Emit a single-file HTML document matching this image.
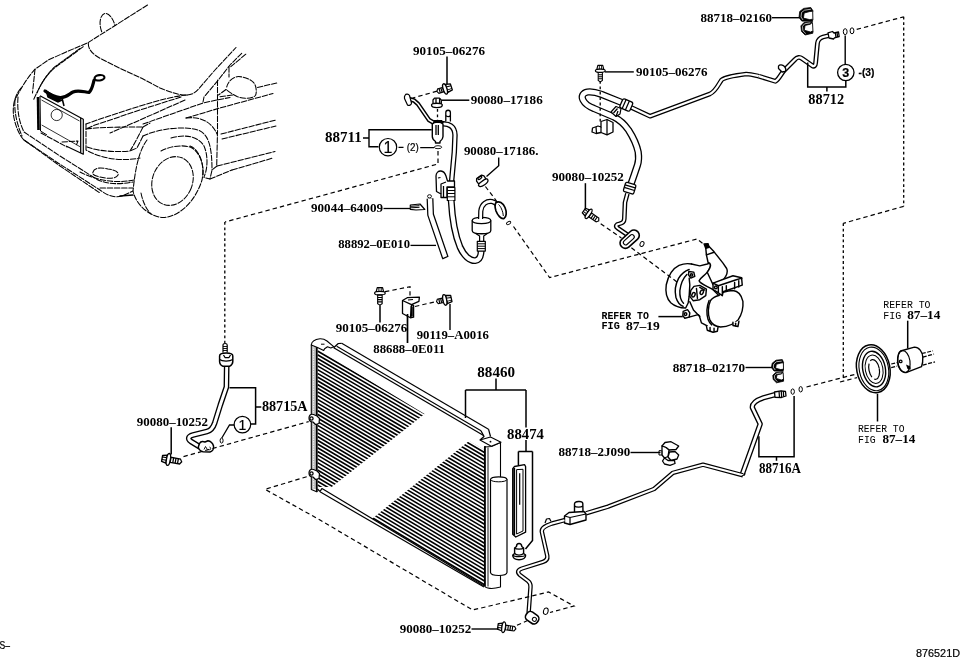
<!DOCTYPE html>
<html><head><meta charset="utf-8"><title>876521D</title>
<style>
html,body{margin:0;padding:0;background:#fff;}
body{width:960px;height:663px;overflow:hidden;font-family:"Liberation Sans",sans-serif;}
svg{display:block;will-change:transform}
.pn{font-family:"Liberation Serif",serif;font-weight:bold;font-size:12px;fill:#000}
.pb{font-family:"Liberation Serif",serif;font-weight:bold;font-size:14px;fill:#000}
.mono{font-family:"Liberation Mono",monospace;font-size:10.5px;fill:#000}
.sans{font-family:"Liberation Sans",sans-serif;fill:#000;stroke:#000;stroke-width:.2}
.l{stroke:#000;stroke-width:1.25;fill:none;stroke-linecap:butt;stroke-linejoin:round}
.t{stroke:#000;stroke-width:0.9;fill:none;stroke-linejoin:round}
.d{stroke:#000;stroke-width:1.2;fill:none;stroke-dasharray:4.4 3.1}
.c{stroke:#000;stroke-width:1.05;fill:none;stroke-dasharray:5.5 1.7;stroke-linejoin:round;stroke-linecap:round}
.w{stroke:#000;stroke-width:1.2;fill:#fff;stroke-linejoin:round}
</style></head>
<body>
<svg width="960" height="663" viewBox="0 0 960 663">
<rect width="960" height="663" fill="#fff"/>
<!--CAR-->
<g id="car">
<!-- roof / far pillar -->
<path class="c" d="M147.5,5 L87,43.3"/>
<path class="c" d="M101.7,31.7 C98,22 101,13 106,13.5 C110,14 113.5,20 115,25.5"/>
<!-- hood left/outer edge -->
<path class="c" d="M86.7,43.3 L66.7,51.7 L48.3,60 L35,69.2 C28,77 22,86 15,100"/>
<path class="c" d="M83.3,46.7 L58.3,65 C50,71 43,79 37,93"/>
<path class="c" d="M80,48.3 L55,66.7 C47,74 41,83 33.5,100"/>
<path class="c" d="M35,69.2 L32.5,93"/>
<!-- windshield base & A pillar -->
<path class="c" d="M88.3,43.3 C88,50 94,55 100,58.3 L120,68.3 L141.7,78.3 L160,88 C170,92 180,95.5 187,95 C193,94.5 196,92 199,88.5 L215,70 L236,47.5"/>
<path class="c" d="M241.7,53.3 L230,65 L218.3,80 L204,97 L203,102"/>
<path class="c" d="M245.8,54.2 L230.8,66.7"/>
<path class="c" d="M229,66.7 L229,77"/>
<!-- side mirror -->
<path class="c" d="M226.7,87 C228,82 232,77.5 237,76.7 C242,76 250,79 253,82 C256.5,85 257,92 255.5,95.5 C252,99 243,99 237,96.5 C232,94 228,91 226,89.5"/>
<path class="c" d="M226,89.5 L218.5,95"/>
<path class="c" d="M220,96.7 L233,95"/>
<path class="c" d="M257.5,87.5 L276.7,83"/>
<!-- hood right creases -->
<path class="c" d="M187,95 C175,96 160,100 140,106 L100,119 L86,124"/>
<path class="c" d="M181,97 L140,110 L95,125 L86,129"/>
<path class="c" d="M185,100 L140,120 L110,133"/>
<!-- fender top / beltline -->
<path class="c" d="M143,124 L203,103 L216.7,100 L230,97.5"/>
<path class="c" d="M186,118 L220,108 L273,93.5"/>
<!-- door front edge -->
<path class="c" d="M217.5,80 L217.5,131.7 L216.7,166"/>
<!-- door lines -->
<path class="c" d="M221,134 L276,120"/>
<path class="c" d="M222,139 L276,126"/>
<path class="c" d="M217,166 L275,151.5"/>
<path class="c" d="M232,170 L273,158"/>
<path class="c" d="M217,166 L212,170 L210,179 L204,177.5"/>
<path class="c" d="M210,179 L232,170"/>
<!-- fender arch -->
<path class="c" d="M186,118 C200,116 212,122 217,134"/>
<path class="c" d="M143,136 C160,128 185,126 198,130 C208,134 212,145 212,170"/>
<path class="c" d="M171,138 C185,134 198,136 204,146 C208,155 208,168 204,177"/>
<path class="c" d="M161,151 C170,146 185,144 192,148 C200,153 204,165 203,175"/>
<!-- wheel -->
<path class="c" d="M147,140 C138,152 135,172 133,191 C136,205 150,217 163,217.5 C180,217 196,200 202,180 C205,165 200,150 190,146"/>
<ellipse class="c" cx="172.5" cy="181" rx="20" ry="25" transform="rotate(22 172.5 181)"/>
<path class="c" d="M141,193 C143,203 147,210 151,214"/>
<!-- headlight -->
<path class="c" d="M86,129 C100,127 125,127 143,127 C140,133 135,143 130,151 C120,152 100,152 87,147"/>
<path class="c" d="M143,127 L150,123"/>
<path class="c" d="M143,136 L137,148 L130,151"/>
<!-- bumper -->
<path class="c" d="M21,88 C14,96 12,108 14,118 C16,128 20,136 24,140 L58,163 L100,190 C108,196 115,198 122,196 L133,191"/>
<path class="c" d="M18,97 C17,110 19,122 24,132 L60,156 L98,180 C110,185 122,184 133,182"/>
<path class="c" d="M15,100 C14,112 17,124 22,136"/>
<path class="c" d="M24,140 L60,166 L100,193"/>
<path class="c" d="M80,172 C95,180 115,184 134,180"/>
<path class="c" d="M100,188 L133,188"/>
<path class="c" d="M120,196 L133,195" style="stroke-width:1.6;stroke-dasharray:none"/>
<path class="c" d="M93,172 C94,168 100,167 108,169 C115,170 119,172 118,175 C116,179 108,179 100,177 C95,176 92,175 93,172Z"/>
<!-- grille area lines -->
<path class="c" d="M41,133 L67,147"/>
<path class="c" d="M62,142 L78,141 L76,146"/>
<path class="c" d="M86,124 L86,150 C100,158 120,162 140,158"/>
<!-- condenser plate (solid) -->
<path class="l" d="M40,95.8 L83.3,119.2 L83.3,154.2 L66,146" style="stroke-width:1.2"/>
<path class="l" d="M80.7,118 L80.7,153"/>
<path class="l" d="M38,97 L38.5,130" style="stroke-width:2.6"/>
<path class="l" d="M41.5,100 L79.5,121 M41.7,125 L80,146.7" style="stroke-width:0.8"/>
<path class="l" d="M40,96 L40.5,131 L47,135" style="stroke-width:1"/>
<circle class="l" cx="56.7" cy="115" r="5.6" style="stroke-width:0.8"/>
<!-- hose (thick) -->
<path d="M45,91 C49,94 54,97 60,97.5 C66,98 69,94 73,92 C78,89.5 84,92 89,92.5 C92,90 93,84 94,80.5" fill="none" stroke="#000" stroke-width="3.2" stroke-linecap="round" stroke-linejoin="round"/>
<ellipse cx="99.5" cy="77.8" rx="5" ry="2.7" transform="rotate(-8 99.5 77.8)" fill="#fff" stroke="#000" stroke-width="2.1"/>
<path d="M46,90 L48,97 L58,102 L62,100" fill="#000" stroke="#000" stroke-width="1.5"/>
<path d="M62,98 L64,106" stroke="#000" stroke-width="1.6" fill="none"/>
</g>
<!--CONDENSER-->
<g id="cond">
<defs>
<clipPath id="cl"><polygon points="317.5,349 424.6,414 331.7,487.1 317.5,487"/></clipPath>
<clipPath id="cr"><polygon points="469,441 484.5,450 484.5,586.5 371.8,518.9"/></clipPath>
</defs>
<path clip-path="url(#cl)" d="M317.5,351.00 L484.5,448.70 M317.5,354.72 L484.5,452.48 M317.5,358.44 L484.5,456.26 M317.5,362.16 L484.5,460.04 M317.5,365.88 L484.5,463.82 M317.5,369.60 L484.5,467.60 M317.5,373.32 L484.5,471.38 M317.5,377.04 L484.5,475.16 M317.5,380.76 L484.5,478.94 M317.5,384.48 L484.5,482.72 M317.5,388.20 L484.5,486.50 M317.5,391.92 L484.5,490.28 M317.5,395.64 L484.5,494.06 M317.5,399.36 L484.5,497.84 M317.5,403.08 L484.5,501.62 M317.5,406.80 L484.5,505.40 M317.5,410.52 L484.5,509.18 M317.5,414.24 L484.5,512.96 M317.5,417.96 L484.5,516.74 M317.5,421.68 L484.5,520.52 M317.5,425.40 L484.5,524.30 M317.5,429.12 L484.5,528.08 M317.5,432.84 L484.5,531.86 M317.5,436.56 L484.5,535.64 M317.5,440.28 L484.5,539.42 M317.5,444.00 L484.5,543.20 M317.5,447.72 L484.5,546.98 M317.5,451.44 L484.5,550.76 M317.5,455.16 L484.5,554.54 M317.5,458.88 L484.5,558.32 M317.5,462.60 L484.5,562.10 M317.5,466.32 L484.5,565.88 M317.5,470.04 L484.5,569.66 M317.5,473.76 L484.5,573.44 M317.5,477.48 L484.5,577.22 M317.5,481.20 L484.5,581.00 M317.5,484.92 L484.5,584.78 M317.5,488.64 L484.5,588.56" stroke="#000" stroke-width="1.6" fill="none"/>
<path clip-path="url(#cr)" d="M317.5,351.00 L484.5,448.70 M317.5,354.72 L484.5,452.48 M317.5,358.44 L484.5,456.26 M317.5,362.16 L484.5,460.04 M317.5,365.88 L484.5,463.82 M317.5,369.60 L484.5,467.60 M317.5,373.32 L484.5,471.38 M317.5,377.04 L484.5,475.16 M317.5,380.76 L484.5,478.94 M317.5,384.48 L484.5,482.72 M317.5,388.20 L484.5,486.50 M317.5,391.92 L484.5,490.28 M317.5,395.64 L484.5,494.06 M317.5,399.36 L484.5,497.84 M317.5,403.08 L484.5,501.62 M317.5,406.80 L484.5,505.40 M317.5,410.52 L484.5,509.18 M317.5,414.24 L484.5,512.96 M317.5,417.96 L484.5,516.74 M317.5,421.68 L484.5,520.52 M317.5,425.40 L484.5,524.30 M317.5,429.12 L484.5,528.08 M317.5,432.84 L484.5,531.86 M317.5,436.56 L484.5,535.64 M317.5,440.28 L484.5,539.42 M317.5,444.00 L484.5,543.20 M317.5,447.72 L484.5,546.98 M317.5,451.44 L484.5,550.76 M317.5,455.16 L484.5,554.54 M317.5,458.88 L484.5,558.32 M317.5,462.60 L484.5,562.10 M317.5,466.32 L484.5,565.88 M317.5,470.04 L484.5,569.66 M317.5,473.76 L484.5,573.44 M317.5,477.48 L484.5,577.22 M317.5,481.20 L484.5,581.00 M317.5,484.92 L484.5,584.78 M317.5,488.64 L484.5,588.56" stroke="#000" stroke-width="1.6" fill="none"/>
<path class="l" d="M341.7,343.3 L488.5,429.2" style="stroke-width:1.2"/>
<path class="l" d="M336.7,346.3 L481.0,430.7" style="stroke-width:1.1"/>
<path class="l" d="M333.7,347.8 L484.0,435.7" style="stroke-width:1.3"/>
<path class="l" d="M333.7,347.8 L335.8,345.8 L338.3,343.5 L341.7,343.3"/>
<path class="l" d="M488.5,429.2 L490.5,436.5 M481,430.7 L484,436.5 L480,440"/>
<path class="l" d="M320,491.8 L484,587" style="stroke-width:1.2"/>
<path class="l" d="M322,488.5 L484,585.9" style="stroke-width:1.2"/>
<path class="l" d="M317.5,489 L320,491.5 M322,488.3 L320,491.5"/>
<rect x="311.8" y="344" width="4.8" height="145" fill="#bbb"/>
<path class="l" d="M311.3,344.5 L311.3,489.5 L317.3,492" style="stroke-width:1.1"/>
<path d="M316.8,347 L316.8,492" stroke="#000" stroke-width="1.8" fill="none"/>
<path d="M313.6,346 L313.6,489" stroke="#fff" stroke-width="0.8" stroke-dasharray="1.5 1" fill="none"/>
<path class="w" d="M311.3,345 C311.5,342 314,339.5 320,338.8 C323,338.7 325,339.5 327,341 L333.7,346.7 L330.8,348 L327.5,346.7 L324.6,348.7 L323.7,350.5 L317.5,347.5 Z" style="stroke-width:1.1"/>
<path class="l" d="M321,344.2 L324.5,344.2" style="stroke-width:1"/>
<path class="w" d="M313.5,414.5 c-3,-1 -4.5,1 -4.5,3.5 c0,2.5 1.5,4 4,4 l2.5,2.5 l3.5,-1 l0.5,-5 l-2.5,-2.5 z" style="stroke-width:1.2"/>
<circle cx="311.5" cy="418.5" r="1.6" class="l"/>
<path class="w" d="M313.5,469.5 c-3,-1 -4.5,1 -4.5,3.5 c0,2.5 1.5,4 4,4 l2.5,2.5 l3.5,-1 l0.5,-5 l-2.5,-2.5 z" style="stroke-width:1.2"/>
<circle cx="311.5" cy="473.5" r="1.6" class="l"/>
<path class="w" d="M484.5,447 L484.5,586 C486,588.5 492,589.5 500.5,587 L500.5,442.5 L491.5,446.5 Z" style="stroke-width:1.1"/>
<path d="M485,446 L485,586" stroke="#000" stroke-width="1.7" fill="none"/>
<path class="l" d="M488,447.5 L488,586.5" style="stroke-width:0.9"/>
<path class="w" d="M480,440 L490.5,437 L501,442.3 L491.3,446.3 Z" style="stroke-width:1.1"/>
<circle cx="490.5" cy="441.7" r="0.9" fill="#000"/>
<path class="w" d="M490.5,479.5 L490.5,572.5 C491,576.5 506.5,576.5 507,572.5 L507,479.5 C506.5,476 491,476 490.5,479.5 Z" style="stroke-width:1.2"/>
<path class="l" d="M490.5,479.5 C491,482.6 506.5,482.6 507,479.5" style="stroke-width:1"/>
</g>
<!--PIPES-->
<g id="pipes">
<path d="M409,99 L414,100.5 L418,104 L429,120 L436,124" fill="none" stroke="#000" stroke-width="4.45" stroke-linecap="butt" stroke-linejoin="round"/><path d="M409,99 L414,100.5 L418,104 L429,120 L436,124" fill="none" stroke="#fff" stroke-width="1.45" stroke-linecap="butt" stroke-linejoin="round"/>
<path class="w" d="M405.2,95 C406,93.5 408.5,94 409.5,95.5 L411.5,103 C411.5,105 409,106 407.5,105 L404.5,98.5 C404.2,97 404.5,96 405.2,95Z" style="stroke-width:1.2"/>
<path d="M430,198.5 L430.6,214.7 L445.3,257.6" fill="none" stroke="#000" stroke-width="6.85" stroke-linecap="butt" stroke-linejoin="round"/><path d="M430,198.5 L430.6,214.7 L445.3,257.6" fill="none" stroke="#fff" stroke-width="4.35" stroke-linecap="butt" stroke-linejoin="round"/>
<path class="l" d="M442.3,258.9 L448.2,256.2"/>
<ellipse cx="429.5" cy="196.3" rx="2" ry="1.6" class="w" style="stroke-width:.9"/>
<path d="M441,124 C449,123 454.8,126.5 455,135 L454.3,152 L451,188" fill="none" stroke="#000" stroke-width="5.45" stroke-linecap="butt" stroke-linejoin="round"/><path d="M441,124 C449,123 454.8,126.5 455,135 L454.3,152 L451,188" fill="none" stroke="#fff" stroke-width="2.85" stroke-linecap="butt" stroke-linejoin="round"/>
<path class="w" d="M445.8,121.5 L445.8,112.5 C445.8,109.5 450.4,109.5 450.4,112.5 L450.4,121.5" style="stroke-width:1.3"/>
<path class="l" d="M445.8,115.5 C446.5,117 449.8,117 450.4,115.5"/>
<path class="w" d="M432.3,124 L432.3,136.5 C432.3,138.5 434,140.5 435.5,141.5 L435.5,143 L440,143 L440,141.5 C442,140 443,138.5 443,136.5 L443,124 C441,121.5 434,121.5 432.3,124Z" style="stroke-width:1.4"/>
<path class="l" d="M436,125 L436,135 M438.3,125 L438.3,135" style="stroke-width:1.3"/>
<path d="M434,120 L442,120 L444,123 L433,123Z" fill="#000"/>
<ellipse cx="438" cy="147.2" rx="3.7" ry="1.5" class="l" style="stroke-width:.9"/>
<path class="w" d="M436,176 C436,172.5 438.5,170.8 441,171 C443.5,171.3 445,173 446,176 L447.5,181 L454.5,181 L454.5,187 L447,187 L447,197.5 L441,197.5 L441,194 L436.5,191.5Z" style="stroke-width:1.3"/>
<path class="l" d="M441,194 L441,184 L446,182 M443.5,186 L443.5,197 M438,178 L440.5,177.5"/>
<rect x="447.3" y="187.5" width="7.6" height="13" class="w" style="stroke-width:1.2"/>
<path class="l" d="M447.3,190.5 L455,190.5 M447.3,193.5 L455,193.5 M447.3,196.8 L455,196.8" style="stroke-width:1"/>
<path d="M451.2,200.5 C452,215 455,235 460,247 C464,256 470,261 475.3,260.6 C479.5,260.2 481,256 481.2,250.5" fill="none" stroke="#000" stroke-width="6.85" stroke-linecap="butt" stroke-linejoin="round"/><path d="M451.2,200.5 C452,215 455,235 460,247 C464,256 470,261 475.3,260.6 C479.5,260.2 481,256 481.2,250.5" fill="none" stroke="#fff" stroke-width="4.25" stroke-linecap="butt" stroke-linejoin="round"/>
<rect x="477.3" y="241.3" width="8" height="9.8" class="w" style="stroke-width:1.2"/>
<path class="l" d="M477.3,243.8 L485.3,243.8 M477.3,246.2 L485.3,246.2 M477.3,248.6 L485.3,248.6" style="stroke-width:1"/>
<path class="w" d="M479.6,241.3 L479.6,236 L475,233 M483.7,241.3 L483.7,236 L488,233" style="stroke-width:1.2;fill:none"/>
<path class="w" d="M472.2,220.5 L472.2,230.5 C472.2,234.8 490.8,234.8 490.8,230.5 L490.8,220.5 C490.8,216.3 472.2,216.3 472.2,220.5Z" style="stroke-width:1.3"/>
<path class="l" d="M472.2,220.5 C472.2,224.6 490.8,224.6 490.8,220.5"/>
<path d="M480.6,219 L480.8,211 C481.5,204 487,200.5 492,201.5 C496,202.3 498,205 500,209" fill="none" stroke="#000" stroke-width="5.25" stroke-linecap="butt" stroke-linejoin="round"/><path d="M480.6,219 L480.8,211 C481.5,204 487,200.5 492,201.5 C496,202.3 498,205 500,209" fill="none" stroke="#fff" stroke-width="2.75" stroke-linecap="butt" stroke-linejoin="round"/>
<path class="w" d="M496,202.5 C499,200.5 503,203 505,207.5 C507,212 506.5,217 504,218.5 C501,219.5 497.5,215 496,211 C495,208 495,204 496,202.5Z" style="stroke-width:1.7"/>
<path class="l" d="M498.5,204.5 C500.5,206 503,211 503.3,216" style="stroke-width:1"/>
<ellipse cx="508.6" cy="223" rx="2.3" ry="1.3" transform="rotate(-30 508.6 223)" class="l" style="stroke-width:.9"/>
<path d="M631,107.3 L650,116.2 L709.8,94 C716,91 718,85 721.3,80.3 C724,77 735,75.5 746.3,74 C751,74 754,75 758.8,76.2" fill="none" stroke="#000" stroke-width="4.65" stroke-linecap="butt" stroke-linejoin="round"/><path d="M631,107.3 L650,116.2 L709.8,94 C716,91 718,85 721.3,80.3 C724,77 735,75.5 746.3,74 C751,74 754,75 758.8,76.2" fill="none" stroke="#fff" stroke-width="2.15" stroke-linecap="butt" stroke-linejoin="round"/>
<path d="M758.8,76.2 L775.4,81.3 C779,79 781,74 783.8,70.8 L795,59.5 C797,57 800,57 802,58.5 L812,65.5 C814,67 815.5,66 815.6,63 L817.5,43 C818,39.5 820,38 823,37 L834,34.3" fill="none" stroke="#000" stroke-width="4.85" stroke-linecap="butt" stroke-linejoin="round"/><path d="M758.8,76.2 L775.4,81.3 C779,79 781,74 783.8,70.8 L795,59.5 C797,57 800,57 802,58.5 L812,65.5 C814,67 815.5,66 815.6,63 L817.5,43 C818,39.5 820,38 823,37 L834,34.3" fill="none" stroke="#fff" stroke-width="2.25" stroke-linecap="butt" stroke-linejoin="round"/>
<path d="M623,103 L601.5,94.3 C596,92.3 591,91.5 587.5,92 C583,92.8 581,96 583,100 C585,104 590,107 594,108.5 L614,117 C621,120.5 625,125 628.5,130 C633,137 636.5,144 638.2,152 C639,158 638.5,162 637.5,165 L634.3,174.5 L631,184" fill="none" stroke="#000" stroke-width="7.25" stroke-linecap="butt" stroke-linejoin="round"/><path d="M623,103 L601.5,94.3 C596,92.3 591,91.5 587.5,92 C583,92.8 581,96 583,100 C585,104 590,107 594,108.5 L614,117 C621,120.5 625,125 628.5,130 C633,137 636.5,144 638.2,152 C639,158 638.5,162 637.5,165 L634.3,174.5 L631,184" fill="none" stroke="#fff" stroke-width="4.65" stroke-linecap="butt" stroke-linejoin="round"/>
<g transform="rotate(24 626.5 105)"><rect x="620.8" y="100.2" width="11" height="9.8" rx="2" class="w" style="stroke-width:1.3"/><path class="l" d="M624,100.2 L624,110 M627.5,100.2 L627.5,110"/></g>
<path class="w" d="M611,112 L616,106.5 L621,108.5 L620,114 L616,116.5Z" style="stroke-width:1.2"/>
<path class="l" d="M613.5,113 L617.5,108.5 M616,116.5 L618,111"/>
<path class="w" d="M601,121.5 L607,119.5 L613,122.5 L613,132 L607,134.8 L601,132.5 L596,133.5 L592,132 L592.5,128 L598,126 L601,127Z" style="stroke-width:1.3"/>
<path class="l" d="M607,119.5 L607,134.5 M601,127 L601,132.5 M596,127 L596.5,133"/>
<g transform="rotate(17 629.7 188)"><rect x="624.3" y="183.4" width="10.8" height="9.6" rx="1.5" class="w" style="stroke-width:1.3"/><path class="l" d="M624.3,186.3 L635,186.3 M624.3,189 L635,189"/></g>
<path d="M627.4,193.6 L625,202.5 L624.3,219 C624.2,222 622,223.3 619.5,223.8 C616,224.3 615.2,226.3 617.5,228 L627,234.5" fill="none" stroke="#000" stroke-width="4.65" stroke-linecap="butt" stroke-linejoin="round"/><path d="M627.4,193.6 L625,202.5 L624.3,219 C624.2,222 622,223.3 619.5,223.8 C616,224.3 615.2,226.3 617.5,228 L627,234.5" fill="none" stroke="#fff" stroke-width="2.05" stroke-linecap="butt" stroke-linejoin="round"/>
<g transform="rotate(-42 629.5 239)"><rect x="618.5" y="234" width="22" height="10.5" rx="5" class="w" style="stroke-width:1.6"/><rect x="622" y="236.8" width="13" height="4.6" rx="2.3" class="l" style="stroke-width:1.1"/></g>
<ellipse cx="642" cy="244" rx="1.9" ry="2.6" transform="rotate(25 642 244)" class="l" style="stroke-width:.9"/>
<path class="w" d="M778.5,66 C779.5,64.5 782.5,64.5 784.5,66.5 C786,68.5 786,70.5 785,71.5 L782,72 L778.5,68.5Z" style="stroke-width:1.3"/>
<path class="w" d="M828,32.8 L832.5,31.5 L834,33 L838.5,32 L839.2,36.5 L834.5,37.8 L833.5,39 L829,38Z" style="stroke-width:1.3"/>
<path class="l" d="M835.3,32.7 L836,37.3 M837,32.4 L837.7,37"/>
<ellipse cx="845.2" cy="31.7" rx="1.9" ry="3" class="l" style="stroke-width:1"/>
<ellipse cx="852" cy="30.8" rx="1.9" ry="3" class="l" style="stroke-width:1"/>
<path d="M775,394.6 L763.5,397.8 C757,400 752,403.5 752.3,407.5 L760.2,424 L751.5,448.5 L742,475" fill="none" stroke="#000" stroke-width="5.25" stroke-linecap="butt" stroke-linejoin="round"/><path d="M775,394.6 L763.5,397.8 C757,400 752,403.5 752.3,407.5 L760.2,424 L751.5,448.5 L742,475" fill="none" stroke="#fff" stroke-width="2.65" stroke-linecap="butt" stroke-linejoin="round"/>
<path d="M743,475.3 L703,464.7 L673,472.8 L654,489 L608,506.7 L586,513.3" fill="none" stroke="#000" stroke-width="4.45" stroke-linecap="butt" stroke-linejoin="round"/><path d="M743,475.3 L703,464.7 L673,472.8 L654,489 L608,506.7 L586,513.3" fill="none" stroke="#fff" stroke-width="1.95" stroke-linecap="butt" stroke-linejoin="round"/>
<path class="l" d="M745.5,474 L741,476.5" style="stroke-width:1"/>
<path class="w" d="M774.5,392 L781,390.8 L785.5,391.5 L786,396 L781.5,397.5 L775,397.3Z" style="stroke-width:1.3"/>
<path class="l" d="M779,391.2 L779.5,397.3 M781.2,390.8 L781.7,397.3 M783.3,391 L783.7,396.8"/>
<ellipse cx="792.7" cy="391.6" rx="1.7" ry="2.7" class="l" style="stroke-width:1"/>
<ellipse cx="800.7" cy="389.3" rx="1.7" ry="2.7" class="l" style="stroke-width:1"/>
<path class="w" d="M574.5,513 L574.5,504 C574.5,501 582.5,500.5 582.8,503.5 L583,512" style="stroke-width:1.4"/>
<path class="l" d="M574.5,506 C576,507.5 581,507.5 582.8,506"/>
<path class="w" d="M564.5,516 L569,512.5 L584,511.5 L586,514 L586,520 L570,524.5 L564.5,523Z" style="stroke-width:1.4"/>
<path class="l" d="M564.5,516 L570,517.5 L586,514 M570,517.5 L570,524.5"/>
<path d="M564.5,520.2 L552,523.5 C546,525.5 541.5,527.5 541.8,531.5 L547.3,556 C547.8,559 546,560.8 543,561.8 L522,568.5 C517.5,570 517,572.5 520,575 L528,581 C530,582.5 530.7,584.5 530.5,587 L528.6,613" fill="none" stroke="#000" stroke-width="4.45" stroke-linecap="butt" stroke-linejoin="round"/><path d="M564.5,520.2 L552,523.5 C546,525.5 541.5,527.5 541.8,531.5 L547.3,556 C547.8,559 546,560.8 543,561.8 L522,568.5 C517.5,570 517,572.5 520,575 L528,581 C530,582.5 530.7,584.5 530.5,587 L528.6,613" fill="none" stroke="#fff" stroke-width="1.95" stroke-linecap="butt" stroke-linejoin="round"/>
<path class="w" d="M545,523 L546.5,519 L549.5,518.5 L551,521.5" style="stroke-width:1.2"/>
<g transform="rotate(35 532 617.5)"><rect x="525.5" y="612.8" width="13.5" height="9.6" rx="4" class="w" style="stroke-width:1.6"/><circle cx="535" cy="617.6" r="2" class="l" style="stroke-width:1"/></g>
<ellipse cx="545.8" cy="611.2" rx="2.3" ry="3.3" transform="rotate(15 545.8 611.2)" class="l" style="stroke-width:1"/>
<path d="M226.7,365 L226.4,387 L220.3,405 L214.7,423 C213,428 211,430.5 207,431.5 L193,435 C188,436.3 187.5,439 191,441.5 L200,447" fill="none" stroke="#000" stroke-width="5.65" stroke-linecap="butt" stroke-linejoin="round"/><path d="M226.7,365 L226.4,387 L220.3,405 L214.7,423 C213,428 211,430.5 207,431.5 L193,435 C188,436.3 187.5,439 191,441.5 L200,447" fill="none" stroke="#fff" stroke-width="2.95" stroke-linecap="butt" stroke-linejoin="round"/>
<path class="w" d="M223,352.5 L223,345 C223,343 227.2,343 227.2,345 L227.2,352.5" style="stroke-width:1.2"/>
<path class="l" d="M223,346.5 L227.2,346.5 M223,348.5 L227.2,348.5 M223,350.5 L227.2,350.5" style="stroke-width:.9"/>
<path class="w" d="M219.6,356 C219.6,352 232.8,352 232.8,356 L232.8,361.5 C232.8,363.5 231,365.5 229.5,366.3 L223,366.3 C221,365.5 219.6,363.5 219.6,361.5Z" style="stroke-width:1.5"/>
<path class="l" d="M223.5,355 L225,357.5 L229,357.5 L230.5,355 M219.6,359.5 C222,361.5 230,361.5 232.8,359.5"/>
<path class="w" d="M199.5,443.5 C200.5,441.5 203,441.2 205,442 L208,440.8 C210.5,441 213,443.5 213.5,446 C214,449 212.5,451.5 210,452 L203,451.8 C200.5,451 198.5,449 198.3,447Z" style="stroke-width:1.5"/>
<path class="l" d="M204,449.5 L205.5,446.5 L207.5,449.8 M209.5,447 C211,447 211,450 209.5,450" style="stroke-width:.9"/>
<ellipse cx="221.6" cy="440.6" rx="1.5" ry="2.5" class="l" style="stroke-width:1"/>
</g>
<!--COMPRESSOR-->
<g id="comp">
<!-- compressor : coords in 6.027x zoom of [650,230] -->
<g transform="translate(650,230) scale(0.16592)" stroke="#000" stroke-width="8.6" fill="none" stroke-linejoin="round" stroke-linecap="round">
<path d="M250,205 C225,200 200,203 175,213 C140,230 110,275 98,330 C92,370 98,410 125,438 C150,460 190,470 215,470 L230,440 L236,400" fill="#fff"/>
<path d="M250,205 L300,216 L345,205 L360,200 C372,212 360,235 340,260 C325,278 300,290 296,306 C300,322 330,332 380,360 L415,395"/>
<path d="M240,432 L262,482 L298,520 L310,560 L345,578"/>
<path d="M236,290 L240,330 L236,400"/>
<path d="M236,238 C215,245 190,262 172,292 C155,325 148,370 156,405 C165,435 180,452 200,460"/>
<path d="M222,268 C200,290 185,325 180,365 C178,400 188,428 202,442"/>
<!-- neck -->
<path d="M336,108 L340,150 L350,196 L360,200 C372,212 362,232 345,255 L380,330 L445,296 L456,280 C466,262 468,245 462,232 L440,200 L385,130 L356,100 Z" fill="#fff"/>
<path d="M340,150 L386,134"/>
<path d="M326,84 L350,82 L356,104 L336,110 Z" fill="#000"/>
<!-- front housing -->
<path d="M415,395 C425,380 460,366 500,365 C530,368 552,395 560,430 C563,465 555,505 532,540 C510,565 470,582 425,585 C395,582 372,568 360,540 C348,510 348,460 365,425 C380,405 400,398 415,395Z" fill="#fff"/>
<path d="M356,425 C342,460 340,505 350,540 C356,556 364,566 372,572"/>
<!-- ear -->
<path d="M380,320 L500,276 L552,288 L556,332 L440,372 L436,396 L412,378 L380,360 Z" fill="#fff"/>
<path d="M380,320 L412,336 L412,378 M412,336 L520,300 L554,290 M436,342 L436,394 M460,336 L460,366 M510,316 L510,354 M535,306 L535,344"/>
<circle cx="397" cy="346" r="8"/>
<!-- lugs -->
<path d="M340,578 L345,604 L380,616 L406,610 L410,586" fill="#fff"/>
<path d="M362,588 L362,608 M386,592 L386,612"/>
<path d="M500,556 L500,576 L530,582 L536,550" fill="#fff"/>
<path d="M516,562 L516,578"/>
<path d="M200,490 L226,480 L240,500 L236,525 L210,532 L198,516 Z" fill="#fff"/>
<circle cx="214" cy="507" r="8"/>
<path d="M236,525 L290,510 L300,520"/>
<!-- connector plate -->
<path d="M265,340 L300,334 L340,356 L336,396 L300,420 L260,426 L240,400 L246,364 Z" fill="#fff"/>
<ellipse cx="262" cy="390" rx="9" ry="14" transform="rotate(25 262 390)"/>
<ellipse cx="312" cy="375" rx="9" ry="14" transform="rotate(25 312 375)"/>
<path d="M280,352 L286,412 M300,346 L330,362"/>
<!-- hex top-left -->
<path d="M234,250 L264,254 L270,280 L246,290 L232,270 Z" fill="#fff"/>
<circle cx="250" cy="271" r="7"/>
</g>
<!-- pulley -->
<g transform="rotate(-11 873.3 368.8)" stroke="#000" fill="none">
<ellipse cx="873.3" cy="368.8" rx="16.6" ry="24.2" stroke-width="1.5" fill="#fff"/>
<ellipse cx="873.8" cy="369" rx="14.6" ry="22" stroke-width="1.1"/>
<ellipse cx="874" cy="369.2" rx="11.3" ry="18" stroke-width="1.4"/>
<ellipse cx="874" cy="369.4" rx="8.8" ry="14.3" stroke-width="1"/>
<ellipse cx="874" cy="369.6" rx="5.2" ry="10" stroke-width="1.2" stroke-dasharray="14 3"/>
</g>
<!-- hub -->
<path class="w" d="M900.5,351 L914.4,347.1 C919,347 922.5,352 922.8,357 C923,362 922,365.5 921.5,366.7 L906,372.6 C901,372.6 897.6,367 897.6,361.5 C897.6,356 899,352 900.5,351Z" style="stroke-width:1.4"/>
<ellipse cx="903.9" cy="361.6" rx="6.1" ry="11" transform="rotate(-8 903.9 361.6)" class="l" style="stroke-width:1.2"/>
<circle cx="900.7" cy="361.4" r="1.3" class="l"/>
<path d="M906,364.5 L910.5,366.5 L910.8,369.5 L907.5,369 Z" fill="#000"/>
<path class="d" d="M921.8,353.5 L933,350.8 M922.8,357.2 L934,354 M922.8,365.1 L935,361.9" style="stroke-dasharray:4 1.5"/>
<path class="d" d="M891.2,364 L897,362.6 M891.2,367.7 L897,366.2" style="stroke-dasharray:4 1.5"/>
<!-- clips -->
<g fill="#000" stroke="#000" stroke-width=".8" stroke-linejoin="round">
<path d="M813.2,11.2 L810.8,7.5 L803.6,8.4 L799.7,11.5 L799,17.5 L801.8,21.1 L812.6,21.4 L812.3,19.2 L809.9,19.7 L803.4,18.1 L804.2,13 L809.9,11.5 Z"/>
<path d="M812.6,22 L803.9,22.6 L800.9,25.9 L801.5,31.4 L805.1,35 L812.9,33.2 L812.5,31 L810.5,32 L804.3,30.2 L805.1,25.4 L810.5,24.2 Z"/>
<path d="M783.7,362.8 L782.3,359.6 L776,360.2 L772.2,363.2 L771.5,367.5 L774,371 L783.3,371.2 L783,369.2 L780.8,369.6 L775.6,368.2 L776.3,364.3 L781,363 Z"/>
<path d="M783.3,372 L775.8,372.4 L772.8,375.3 L773.2,379.5 L776.5,382.8 L783.6,381.2 L783.2,379.2 L781.3,380 L776.3,378.4 L777,374.8 L781.5,374 Z"/>
</g>
<path d="M812.7,11.4 L812.9,20.2 M812.5,23 L813,32.2 M783.4,363 L783.5,370 M783.2,373 L783.6,380.5" stroke="#000" stroke-width=".9" fill="none"/>
<g fill="none" stroke="#fff" stroke-width=".7" stroke-linecap="round">
<path d="M810.5,9.3 L804.5,10.2 L801.5,12.5 L801,17 L802.8,19.6 M810,22.9 L804.6,23.8 L802.5,26.3 L802.9,30.8 L805.5,33.3"/>
<path d="M781.3,361.2 L776.6,361.7 L773.8,364 L773.3,367.2 L775,369.7 M781,373 L776.5,373.6 L774.4,375.8 L774.8,379 L777,381.3"/>
</g>
<g stroke="#000" stroke-width="1.3" fill="#fff" stroke-linejoin="round">
<path d="M662,446 L665,442.5 L671,441.7 L678.7,446 L676,449.5 L669,450 L666,447.5 Z"/>
<path d="M666,447.5 L669,450 L668,456.5 L664.5,458 L662,455 L662,446Z"/>
<path d="M669.5,452 L675,451.5 L678.7,455 L677,459 L671,460.5 L668,457 Z"/>
<path d="M664.5,458 L668,460.5 L674.5,460.5 L675,463.5 L670,465.3 L664.5,464 L662.5,461Z"/>
<path d="M659,450.7 L661.8,450.7 L661.8,455 L659,455Z" stroke-width="1"/>
</g>
<!-- desiccant bag -->
<path class="w" d="M512.7,468.6 L514.5,466.5 L524.5,464.6 L525.6,466.5 L525.6,532.2 L515.8,537 L512.7,534.2 Z" style="stroke-width:1.3"/>
<path class="l" d="M516.6,469.6 L523,469.3 L523,531 L516.6,534 Z" style="stroke-width:1"/>
<path d="M514.2,468 L514.2,535" stroke="#000" stroke-width="1.9" fill="none"/>
<path class="l" d="M519.7,473.3 L519.7,504.7" style="stroke-width:1.2"/>
<!-- plug -->
<path class="w" d="M516.5,546.5 C516.5,542.5 521.5,542.5 521.8,546.5 L523.6,548 L523.6,553.5 L525.6,555 C526,558 523,559.8 519,559.8 C515,559.8 512.4,558 512.8,555 L514.6,553.5 L514.6,548 Z" style="stroke-width:1.4"/>
<path class="l" d="M514.6,548 C516,549.5 522,549.5 523.6,548 M514.6,553.5 C516.5,555.5 521.5,555.5 523.6,553.5 M512.8,555 C514,557.3 524,557.3 525.6,555"/>
<!-- nuts -->
<g class="w" style="stroke-width:1.3">
<path d="M433,100 L434.5,98.2 L439.5,98.2 L441.3,100 L441.3,103.5 L433,103.5Z"/>
<path d="M431.5,105 C431.5,102.8 442.3,102.8 442.3,105 C442.3,108.5 431.5,108.5 431.5,105Z"/>
<path d="M436,98.2 L436,103.3 M439.6,98.4 L439.6,103.3" fill="none"/>
</g>
<g class="w" style="stroke-width:1.3" transform="rotate(-35 481.8 180.7)">
<path d="M477.3,178 L478.8,176 L484.8,176 L486.3,178 L486.3,181.5 L477.3,181.5Z"/>
<path d="M476.3,183 C476.3,180.7 487.3,180.7 487.3,183 C487.3,186.6 476.3,186.6 476.3,183Z"/>
<ellipse cx="481.8" cy="177.3" rx="2.2" ry="1.1" fill="none"/>
</g>
<!-- bolts: defined pointing down (head on top) at origin -->
<defs>
<g id="bolt">
<path d="M-3.6,-4.3 L-2.6,-8.3 L2.6,-8.3 L3.6,-4.3Z" fill="#fff" stroke="#000" stroke-width="1.2" stroke-linejoin="round"/>
<path d="M-1,-8.3 L-1,-4.3 M1.3,-8.3 L1.3,-4.3" stroke="#000" stroke-width=".9" fill="none"/>
<path d="M-5.2,-2.8 C-5.2,-5 5.2,-5 5.2,-2.8 C5.2,-0.4 -5.2,-0.4 -5.2,-2.8Z" fill="#fff" stroke="#000" stroke-width="1.2"/>
<path d="M-2.2,-0.8 L-2.2,7.5 L0,9 L2.2,7.5 L2.2,-0.8Z" fill="#fff" stroke="#000" stroke-width="1.1"/>
<path d="M-2.2,1.5 L2.2,1.5 M-2.2,3.6 L2.2,3.6 M-2.2,5.7 L2.2,5.7" stroke="#000" stroke-width="1.1" fill="none"/>
</g>
<g id="bolt2">
<path d="M-4.2,-3.8 L-3.2,-8.8 L3.2,-8.8 L4.2,-3.8Z" fill="#fff" stroke="#000" stroke-width="1.3" stroke-linejoin="round"/>
<path d="M-1.2,-8.8 L-1.4,-3.8 M1.6,-8.8 L1.8,-3.8" stroke="#000" stroke-width="1" fill="none"/>
<path d="M-5.4,-2.2 C-5.4,-4.6 5.4,-4.6 5.4,-2.2 C5.4,0.4 -5.4,0.4 -5.4,-2.2Z" fill="#fff" stroke="#000" stroke-width="1.3"/>
<path d="M-2.3,0 L-2.3,5 L0,6.3 L2.3,5 L2.3,0Z" fill="#fff" stroke="#000" stroke-width="1.1"/>
<path d="M-2.3,1.6 L2.3,1.6 M-2.3,3.5 L2.3,3.5" stroke="#000" stroke-width="1.2" fill="none"/>
</g>
</defs>
<use href="#bolt" transform="translate(379.9,296) scale(1.02)"/>
<use href="#bolt" transform="translate(600.3,73.3) scale(.95)"/>
<use href="#bolt2" transform="translate(443,89.6) rotate(72)"/>
<use href="#bolt2" transform="translate(442.7,300.4) rotate(78)"/>
<use href="#bolt" transform="translate(591,215.5) rotate(-55) scale(1.05)"/>
<use href="#bolt" transform="translate(171.5,460) rotate(-80) scale(1.15)"/>
<use href="#bolt" transform="translate(506.5,627.6) rotate(-82) scale(1.05)"/>
<!-- bracket 88688 -->
<path class="w" d="M402.5,300.5 L407.2,297.7 L419.4,297.2 L418.9,301.4 L411.5,304.6 L413.6,305.6 L413.6,317.2 L410.4,317.8 L402.5,313.5Z" style="stroke-width:1.3"/>
<path class="l" d="M402.5,300.5 L411.5,304.6 L410.4,317.8 M408,300 L413,299.5"/>
<path d="M410.6,306 L412.8,306.5 L412.8,316.5 L410.6,317Z" fill="#000"/>
<!-- clip 90044 -->
<path class="w" d="M410.3,205 L420,204 L424.8,209.5 L416,210 L410.3,209.3Z" style="stroke-width:1.2"/>
<path class="l" d="M411,206.3 L419.5,205.7 M411,207.8 L419.5,207.3" style="stroke-width:1"/>
</g>
<!--DASH-->
<g id="dash">
<path class="d" d="M438,151 L438,164 L225,222" />
<path class="d" d="M224.8,222 L224.8,343" style="stroke-dasharray:2.8 2.6;stroke-width:1.3"/>
<path class="d" d="M437,91.2 L412.6,98" />
<path class="d" d="M437.5,109 L437.5,120" style="stroke-dasharray:2.8 2.6;stroke-width:1.3"/>
<path class="d" d="M485.4,186.5 L496.5,201" />
<path class="d" d="M513.5,226.5 L549.6,277.6 L697,239 L704,244.5" />
<path class="d" d="M631.4,247.8 L678.8,283.3" />
<path class="d" d="M600.7,223.8 L621.4,237.9" />
<path class="d" d="M600.2,81 L600.2,123" style="stroke-dasharray:2.8 2.6;stroke-width:1.3"/>
<path class="d" d="M856.7,29.4 L903.7,16.8" />
<path class="d" d="M903.7,16.8 L903.7,206.3" style="stroke-dasharray:2.8 2.6;stroke-width:1.3"/>
<path class="d" d="M903.7,206.3 L843.3,223.3" />
<path class="d" d="M843.3,223.3 L843.3,378" style="stroke-dasharray:2.8 2.6;stroke-width:1.3"/>
<path class="d" d="M806.5,387 L858,373.6" />
<path class="d" d="M840,382 L857,377.6" />
<path class="d" d="M183.5,456.6 L308.7,421.6" />
<path class="d" d="M306.7,476.7 L265,489.3 L320,520 L472.6,610 L548.6,592 L574,606 L550,612.5" />
<path class="d" d="M517,625.2 L527,620.8" />
<path class="d" d="M385,291.7 L410,286.7 L410,297" />
<path class="d" d="M415,306.5 L435,301.8" />
</g>
<!--LABELS-->
<g id="labels">
<text class="pn" x="413.0" y="54.8" textLength="72.0" lengthAdjust="spacingAndGlyphs" >90105–06276</text>
<path d="M447,56.5 L447,84.5" stroke="#000" stroke-width="1.50" fill="none"/>
<text class="pn" x="470.7" y="103.9" textLength="72.0" lengthAdjust="spacingAndGlyphs" >90080–17186</text>
<path d="M442,100.2 L469.3,100.2" stroke="#000" stroke-width="1.50" fill="none"/>
<text class="pb" x="325.0" y="142.2" textLength="36.7" lengthAdjust="spacingAndGlyphs" style="font-size:14.2px" >88711</text>
<path d="M363,138 L369,138 M431.7,129.7 L369,129.7 L369,146.7 L378.5,146.7" stroke="#000" stroke-width="1.40" fill="none"/>
<circle cx="388" cy="147.2" r="8.7" class="l" style="stroke-width:1.2"/>
<text class="sans" x="383.4" y="153.0" textLength="8.9" lengthAdjust="spacingAndGlyphs" style="font-size:16px" >1</text>
<path d="M398.5,147.3 L403.5,147.3 M420.2,147.6 L434,147.6" stroke="#000" stroke-width="1.30" fill="none"/>
<text class="sans" x="406.7" y="151.2" textLength="12.0" lengthAdjust="spacingAndGlyphs" style="font-size:11px" >(2)</text>
<text class="pn" x="463.9" y="155.0" textLength="74.5" lengthAdjust="spacingAndGlyphs" >90080–17186.</text>
<path d="M498.7,157.5 L498.7,165.8 L486.5,176.5" stroke="#000" stroke-width="1.40" fill="none"/>
<text class="pn" x="311.0" y="212.0" textLength="72.0" lengthAdjust="spacingAndGlyphs" >90044–64009</text>
<path d="M383.5,208.5 L410,208.5" stroke="#000" stroke-width="1.30" fill="none"/>
<text class="pn" x="338.3" y="248.3" textLength="71.7" lengthAdjust="spacingAndGlyphs" >88892–0E010</text>
<path d="M410.5,245.4 L436,245.4" stroke="#000" stroke-width="1.30" fill="none"/>
<text class="pn" x="335.7" y="332.3" textLength="71.6" lengthAdjust="spacingAndGlyphs" >90105–06276</text>
<text class="pn" x="416.7" y="339.0" textLength="72.3" lengthAdjust="spacingAndGlyphs" >90119–A0016</text>
<text class="pn" x="373.3" y="353.3" textLength="71.7" lengthAdjust="spacingAndGlyphs" >88688–0E011</text>
<text class="pb" x="477.3" y="376.7" textLength="37.7" lengthAdjust="spacingAndGlyphs" style="font-size:14.2px" >88460</text>
<text class="pb" x="507.1" y="438.5" textLength="36.9" lengthAdjust="spacingAndGlyphs" style="font-size:14.2px" >88474</text>
<text class="pb" x="261.9" y="411.0" textLength="45.7" lengthAdjust="spacingAndGlyphs" style="font-size:14.2px" >88715A</text>
<text class="pn" x="136.8" y="425.5" textLength="71.2" lengthAdjust="spacingAndGlyphs" >90080–10252</text>
<path d="M171.2,427.3 L171.2,454.5" stroke="#000" stroke-width="1.50" fill="none"/>
<text class="pn" x="399.7" y="632.5" textLength="71.7" lengthAdjust="spacingAndGlyphs" >90080–10252</text>
<path d="M471.5,629 L498.5,629" stroke="#000" stroke-width="1.40" fill="none"/>
<text class="pn" x="700.4" y="21.6" textLength="71.5" lengthAdjust="spacingAndGlyphs" >88718–02160</text>
<path d="M772,17.7 L799.5,17.7" stroke="#000" stroke-width="1.40" fill="none"/>
<text class="pn" x="636.0" y="75.8" textLength="71.6" lengthAdjust="spacingAndGlyphs" >90105–06276</text>
<path d="M604.8,71.9 L633.8,71.9" stroke="#000" stroke-width="1.40" fill="none"/>
<text class="pb" x="808.3" y="104.3" textLength="35.9" lengthAdjust="spacingAndGlyphs" style="font-size:14.2px" >88712</text>
<path d="M807.7,62.5 L807.7,87 L845.8,87 L845.8,81 M826.9,87 L826.9,91.5" stroke="#000" stroke-width="1.50" fill="none"/>
<path d="M845.2,35.5 L845.2,64.5" stroke="#000" stroke-width="1.40" fill="none"/>
<circle cx="845.8" cy="72.5" r="8.2" class="l" style="stroke-width:1.3"/>
<text class="sans" x="842.3" y="77.3" textLength="7.0" lengthAdjust="spacingAndGlyphs" style="font-size:13.5px" font-weight="bold">3</text>
<text class="sans" x="858.5" y="76.3" textLength="16.0" lengthAdjust="spacingAndGlyphs" style="font-size:10.5px" font-weight="bold">-(3)</text>
<text class="pn" x="552.0" y="180.8" textLength="71.9" lengthAdjust="spacingAndGlyphs" >90080–10252</text>
<path d="M585.4,183.2 L585.4,209.7" stroke="#000" stroke-width="1.50" fill="none"/>
<text class="mono" x="601.5" y="318.6" textLength="47.5" lengthAdjust="spacingAndGlyphs" style="font-size:10.5px" font-weight="bold">REFER TO</text>
<text class="mono" x="601.5" y="328.5" textLength="18.3" lengthAdjust="spacingAndGlyphs" style="font-size:10.5px" font-weight="bold">FIG</text>
<text class="pn" x="626.0" y="329.6" textLength="33.9" lengthAdjust="spacingAndGlyphs" style="font-size:11.6px" >87–19</text>
<path d="M658.4,316.6 L682.8,316.6" stroke="#000" stroke-width="1.50" fill="none"/>
<text class="pn" x="672.7" y="371.8" textLength="72.3" lengthAdjust="spacingAndGlyphs" >88718–02170</text>
<path d="M745.5,367.5 L772,367.5" stroke="#000" stroke-width="1.40" fill="none"/>
<text class="mono" x="883.3" y="308.0" textLength="47.2" lengthAdjust="spacingAndGlyphs" style="font-size:10.5px" >REFER TO</text>
<text class="mono" x="883.3" y="318.5" textLength="18.0" lengthAdjust="spacingAndGlyphs" style="font-size:10.5px" >FIG</text>
<text class="pn" x="907.2" y="318.6" textLength="33.2" lengthAdjust="spacingAndGlyphs" style="font-size:11.6px" >87–14</text>
<path d="M907.7,320.7 L907.7,348.5" stroke="#000" stroke-width="1.50" fill="none"/>
<text class="mono" x="858.0" y="432.2" textLength="46.5" lengthAdjust="spacingAndGlyphs" style="font-size:10.5px" >REFER TO</text>
<text class="mono" x="858.0" y="443.1" textLength="17.7" lengthAdjust="spacingAndGlyphs" style="font-size:10.5px" >FIG</text>
<text class="pn" x="882.5" y="443.2" textLength="32.8" lengthAdjust="spacingAndGlyphs" style="font-size:11.6px" >87–14</text>
<path d="M877.5,393.8 L877.5,421.5" stroke="#000" stroke-width="1.50" fill="none"/>
<text class="pn" x="558.4" y="456.1" textLength="71.8" lengthAdjust="spacingAndGlyphs" >88718–2J090</text>
<path d="M630.5,452.5 L660.5,452.5" stroke="#000" stroke-width="1.40" fill="none"/>
<text class="pb" x="758.9" y="472.9" textLength="42.1" lengthAdjust="spacingAndGlyphs" style="font-size:13.8px" >88716A</text>
<path d="M758.9,436.3 L758.9,456.7 L794.1,456.7 L794.1,396 M776.5,456.7 L776.5,460.8" stroke="#000" stroke-width="1.50" fill="none"/>
<text class="sans" x="916.0" y="657.0" textLength="44.0" lengthAdjust="spacingAndGlyphs" style="font-size:11.3px" >876521D</text>
<text class="sans" x="-0.5" y="648.6" textLength="10.5" lengthAdjust="spacingAndGlyphs" style="font-size:11px" >S–</text>
<path d="M229.5,387.7 L255.6,387.7 L255.6,423.9 L251,423.9 M255.6,406.9 L261.3,406.9" stroke="#000" stroke-width="1.50" fill="none"/>
<circle cx="242.4" cy="424.6" r="8.3" class="l" style="stroke-width:1.2"/>
<text class="sans" x="238.4" y="429.7" textLength="7.8" lengthAdjust="spacingAndGlyphs" style="font-size:14px" >1</text>
<path d="M234.3,425 L229.5,425 L221.8,438" stroke="#000" stroke-width="1.30" fill="none"/>
<path d="M496,378.5 L496,390 M465.5,390 L526,390 M465.5,390 L465.5,418 M526,390 L526,427.5 M526,440 L526,451.5 M518.4,451.5 L532.5,451.5 M518.4,451.5 L518.4,465 M532.5,451.5 L532.5,540.5 L525.5,549" stroke="#000" stroke-width="1.50" fill="none"/>
<path d="M380,305.3 L380,322.5" stroke="#000" stroke-width="1.50" fill="none"/>
<path d="M450,304 L450,330" stroke="#000" stroke-width="1.40" fill="none"/>
<path d="M407.5,314 L407.5,343" stroke="#000" stroke-width="1.70" fill="none"/>
</g>
</svg>
</body></html>
